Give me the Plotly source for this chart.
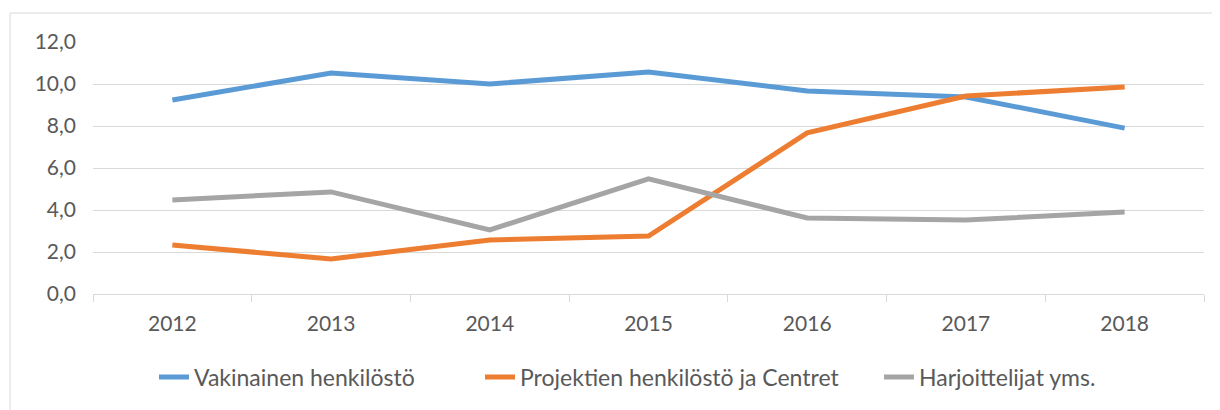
import plotly.graph_objects as go

years = ["2012", "2013", "2014", "2015", "2016", "2017", "2018"]
vakinainen = [9.24, 10.52, 10.0, 10.57, 9.67, 9.38, 7.9]
projektien = [2.33, 1.67, 2.57, 2.76, 7.67, 9.43, 9.86]
harjoittelijat = [4.48, 4.86, 3.05, 5.48, 3.62, 3.52, 3.9]
series_names = ["Vakinainen henkilöstö", "Projektien henkilöstö ja Centret", "Harjoittelijat yms."]
colors = ["#5B9BD5", "#ED7D31", "#A5A5A5"]
yticks = [0, 2, 4, 6, 8, 10, 12]

FONT = "Lato, sans-serif"
OFF = 8  # page body margin
W, H = 1220 - OFF, 410 - OFF
L, R, T, B = 93 - OFF, 16, 42 - OFF, 116
pw, ph = W - L - R, H - T - B

def px2x(p):
    return (p - OFF - L) / pw

def py2y(p):
    return (H - B - (p - OFF)) / ph

legend_ids = ["legend", "legend2", "legend3"]
legend_px = [154, 480, 879]

fig = go.Figure()
for name, vals, col, lid in zip(series_names, [vakinainen, projektien, harjoittelijat], colors, legend_ids):
    fig.add_trace(go.Scatter(x=years, y=vals, name=name, mode="lines", legend=lid,
                             line=dict(color=col, width=5)))

fig.add_shape(type="rect", xref="paper", yref="paper",
              x0=px2x(10), x1=px2x(1240), y0=py2y(430), y1=py2y(13),
              line=dict(color="#D9D9D9", width=1), fillcolor="rgba(0,0,0,0)", layer="below")

legend_common = dict(orientation="h", xanchor="left", yanchor="middle", y=py2y(377),
                     font=dict(family=FONT, size=23, color="#595959"),
                     bgcolor="rgba(0,0,0,0)", itemwidth=30)

fig.update_layout(
    width=W, height=H,
    margin=dict(l=L, r=R, t=T, b=B, pad=0),
    paper_bgcolor="white", plot_bgcolor="white",
    separators=", ",
    font=dict(family=FONT, size=21, color="#595959"),
    showlegend=True,
    legend=dict(x=px2x(legend_px[0]), **legend_common),
    legend2=dict(x=px2x(legend_px[1]), **legend_common),
    legend3=dict(x=px2x(legend_px[2]), **legend_common),
    xaxis=dict(type="category", showgrid=False, showline=True, linecolor="#D9D9D9", linewidth=1,
               ticks="outside", tickson="boundaries", ticklen=7, tickcolor="#D9D9D9",
               tickfont=dict(family=FONT, size=21, color="#595959"), ticklabelstandoff=11,
               range=[-0.5, 6.5], fixedrange=True),
    yaxis=dict(range=[0, 12], tickvals=yticks, tickformat=".1f", showgrid=True,
               gridcolor="#D9D9D9", gridwidth=1, zeroline=False, showline=False,
               tickfont=dict(family=FONT, size=21, color="#595959"), ticklabelstandoff=16,
               fixedrange=True),
)

fig.write_html("out.html")
